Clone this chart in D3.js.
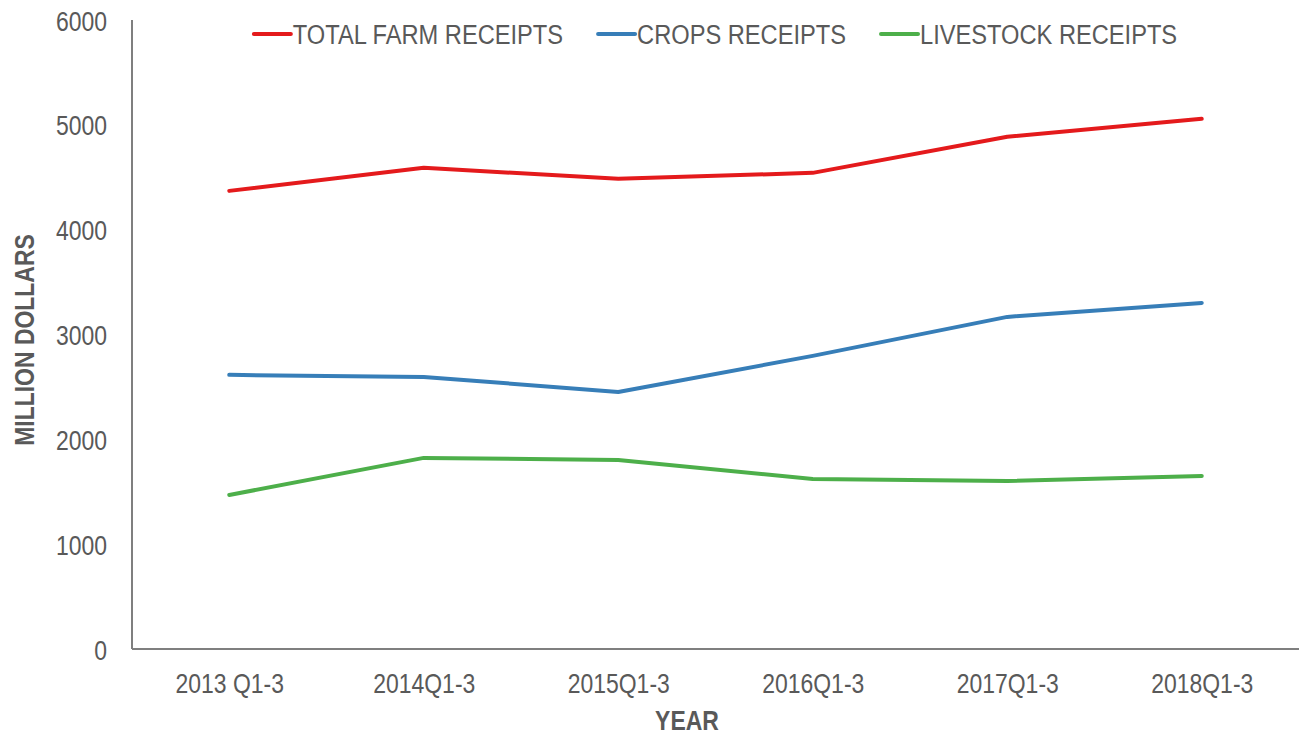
<!DOCTYPE html>
<html>
<head>
<meta charset="utf-8">
<script src="https://cdn.jsdelivr.net/npm/d3@7"></script>
<style>
  body { margin: 0; background: #fff; }
  svg text { font-family: "Liberation Sans", Arial, sans-serif; fill: #595959; }
</style>
</head>
<body>
<svg id="chart"></svg>
<script>
const years = ['2013 Q1-3', '2014Q1-3', '2015Q1-3', '2016Q1-3', '2017Q1-3', '2018Q1-3'];
const totalReceipts = [4370, 4590, 4485, 4542, 4886, 5057];
const cropsReceipts = [2615, 2595, 2452, 2796, 3168, 3301];
const livestockReceipts = [1469, 1823, 1803, 1622, 1603, 1651];
const yTicks = [0, 1000, 2000, 3000, 4000, 5000, 6000];
const seriesNames = ['TOTAL FARM RECEIPTS', 'CROPS RECEIPTS', 'LIVESTOCK RECEIPTS'];
const seriesColors = ['#e41a1c', '#377eb8', '#4daf4a'];

const width = 1299, height = 735;
const margin = { top: 20, right: 0, bottom: 86, left: 132 };
const sx = 0.82; // the original text looks horizontally squeezed
const fontSize = 28;

const svg = d3.select('#chart').attr('width', width).attr('height', height);

const xScale = d3.scalePoint()
    .domain(years)
    .range([margin.left, width - margin.right])
    .padding(0.5);
const yScale = d3.scaleLinear()
    .domain([0, 6000])
    .range([height - margin.bottom, margin.top]);

// axes
const yAxisG = svg.append('g')
    .attr('transform', `translate(${margin.left},0)`)
    .call(d3.axisLeft(yScale).tickValues(yTicks).tickSize(0).tickPadding(0).tickFormat(d3.format('d')));
const xAxisG = svg.append('g')
    .attr('transform', `translate(0,${height - margin.bottom})`)
    .call(d3.axisBottom(xScale).tickSize(0).tickSizeOuter(0).tickPadding(0));

[yAxisG, xAxisG].forEach(g => {
    g.select('.domain').attr('stroke', '#7f7f7f').attr('stroke-width', 2);
    g.selectAll('text')
        .style('font-size', fontSize + 'px')
        .attr('fill', '#595959');
});
yAxisG.select('.domain').attr('d', `M0,${yScale(6000)}V${yScale(0)}`);
xAxisG.select('.domain').attr('d', `M${margin.left},0H${width}`);
yAxisG.selectAll('text')
    .attr('x', -25 / sx)
    .attr('dy', '0.36em')
    .attr('transform', `scale(${sx},1)`);
xAxisG.selectAll('text')
    .attr('y', 24)
    .attr('dy', '0.71em')
    .attr('transform', `scale(${sx},1)`);

// axis titles
svg.append('g')
    .attr('transform', `translate(687,730) scale(${sx},1)`)
    .append('text')
    .attr('text-anchor', 'middle')
    .style('font-size', fontSize + 'px')
    .style('font-weight', 'bold')
    .text('YEAR');
svg.append('g')
    .attr('transform', `translate(34,340) rotate(-90) scale(${sx},1)`)
    .append('text')
    .attr('text-anchor', 'middle')
    .style('font-size', fontSize + 'px')
    .style('font-weight', 'bold')
    .text('MILLION DOLLARS');

// lines
const seriesData = [totalReceipts, cropsReceipts, livestockReceipts];
const line = d3.line()
    .x((d, i) => xScale(years[i]))
    .y(d => yScale(d));
svg.append('g').selectAll('path')
    .data(seriesData)
    .join('path')
    .attr('d', line)
    .attr('fill', 'none')
    .attr('stroke', (d, i) => seriesColors[i])
    .attr('stroke-width', 4)
    .attr('stroke-linecap', 'round')
    .attr('stroke-linejoin', 'round');

// legend
const legend = svg.append('g');
const legendSx = 0.845;
const swatchW = 37, swatchGap = 2, itemGap = 35;
const items = seriesNames.map((name, i) => {
    const g = legend.append('g');
    g.append('line')
        .attr('x1', 0).attr('x2', swatchW)
        .attr('y1', 0).attr('y2', 0)
        .attr('stroke', seriesColors[i])
        .attr('stroke-width', 4)
        .attr('stroke-linecap', 'round');
    const t = g.append('text')
        .attr('transform', `translate(${swatchW + swatchGap},0) scale(${legendSx},1)`)
        .attr('dy', '0.36em')
        .style('font-size', fontSize + 'px')
        .text(name);
    return { g, w: swatchW + swatchGap + t.node().getComputedTextLength() * legendSx };
});
const totalW = d3.sum(items, d => d.w) + itemGap * (items.length - 1);
let lx = (margin.left + width) / 2 - totalW / 2;
items.forEach(it => {
    it.g.attr('transform', `translate(${lx},34)`);
    lx += it.w + itemGap;
});
</script>
</body>
</html>
